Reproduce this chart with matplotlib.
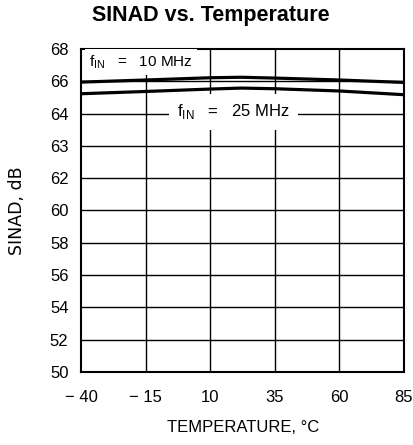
import numpy as np
import matplotlib
matplotlib.use("Agg")
import matplotlib.pyplot as plt

# Data
temp = [-40, -15, 10, 22, 35, 60, 85]
sinad_10mhz = [65.95, 66.08, 66.22, 66.25, 66.20, 66.08, 65.93]
sinad_25mhz = [65.23, 65.37, 65.52, 65.58, 65.54, 65.40, 65.17]

x_ticks = [-40, -15, 10, 35, 60, 85]
y_ticks = [50, 52, 54, 56, 58, 60, 62, 63, 64, 66, 68]
y_grid = [52, 54, 56, 58, 60, 62, 63, 64, 66]

title = "SINAD vs. Temperature"
xlabel = "TEMPERATURE, °C"
ylabel = "SINAD, dB"
label_10 = r"f$_{\mathregular{IN}}$   =   10 MHz"
label_25 = r"f$_{\mathregular{IN}}$   =   25 MHz"

# piecewise-linear axis: tick labels are evenly spaced
pos = np.arange(len(y_ticks), dtype=float)
def fwd(v):
    return np.interp(v, y_ticks, pos)
def inv(p):
    return np.interp(p, pos, y_ticks)

fig = plt.figure(figsize=(4.14, 4.45), dpi=100)
ax = fig.add_axes([81/414, 1-372/445, (404-81)/414, (372-49)/445])
ax.set_yscale('function', functions=(fwd, inv))
ax.set_xlim(-40, 85)
ax.set_ylim(50, 68)

for g in y_grid:
    ax.axhline(g, color='black', lw=1.0, zorder=1)
for g in x_ticks[1:-1]:
    ax.axvline(g, color='black', lw=1.0, zorder=1)

ax.plot(temp, sinad_10mhz, color='black', lw=2.3, zorder=3)
ax.plot(temp, sinad_25mhz, color='black', lw=2.3, zorder=3)

ax.set_xticks(x_ticks)
ax.set_xticklabels([str(t).replace("-", "\u2212 ") for t in x_ticks])
ax.set_yticks(y_ticks)
ax.set_yticklabels([str(t) for t in y_ticks])
ax.tick_params(length=0, labelsize=12)
ax.tick_params(axis='x', pad=13)
ax.tick_params(axis='y', pad=9)
for lab in ax.get_xticklabels() + ax.get_yticklabels():
    lab.set_family('Liberation Sans')
for s in ax.spines.values():
    s.set_linewidth(1.5)

ax.text(-37, 67.2, label_10, fontsize=11, family='Liberation Sans', ha='left', va='center',
        bbox=dict(facecolor='white', edgecolor='none', pad=3), zorder=4)
ax.text(19, 64.1, label_25, fontsize=12, family='Liberation Sans', ha='center', va='center',
        bbox=dict(facecolor='white', edgecolor='none', pad=6), zorder=4)

fig.text(211/414, 1-16/445, title, fontsize=15.5, fontweight='bold', family='Liberation Sans',
         ha='center', va='center')
fig.text(243/414, 1-428/445, xlabel, fontsize=12, family='Liberation Sans', ha='center', va='center')
fig.text(17/414, 1-211/445, ylabel, fontsize=12.5, family='DejaVu Sans', ha='center', va='center',
         rotation=90)

fig.savefig("out.png", dpi=100)
